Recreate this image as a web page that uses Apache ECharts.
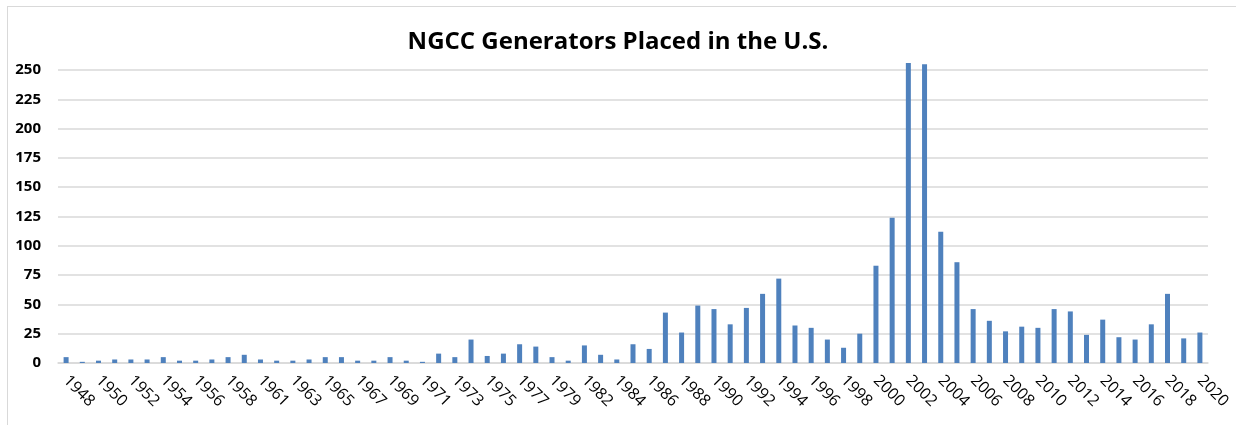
<!DOCTYPE html>
<html>
<head>
<meta charset="utf-8">
<title>NGCC Generators Placed in the U.S.</title>
<script src="https://cdn.jsdelivr.net/npm/echarts@6/dist/echarts.min.js"></script>
<style>
	html, body {
		margin: 0;
		padding: 0;
		background: #fff;
	}
	.chart-frame {
		position: absolute;
		left: 7px;
		top: 6px;
		width: 1300px;
		height: 500px;
		border: 1px solid #d9d9d9;
	}
	.chart-canvas {
		position: absolute;
		left: 0;
		top: 0;
		width: 1236px;
		height: 425px;
	}
</style>
</head>
<body>
<div class="chart-frame"></div>
<div class="chart-canvas" id="chart"></div>
<script>
	var years = [
		'1948', '1949', '1950', '1951', '1952', '1953', '1954', '1955', '1956', '1957',
		'1958', '1960', '1961', '1962', '1963', '1964', '1965', '1966', '1967', '1968',
		'1969', '1970', '1971', '1972', '1973', '1974', '1975', '1976', '1977', '1978',
		'1979', '1981', '1982', '1983', '1984', '1985', '1986', '1987', '1988', '1989',
		'1990', '1991', '1992', '1993', '1994', '1995', '1996', '1997', '1998', '1999',
		'2000', '2001', '2002', '2003', '2004', '2005', '2006', '2007', '2008', '2009',
		'2010', '2011', '2012', '2013', '2014', '2015', '2016', '2017', '2018', '2019',
		'2020'
	];

	var generators = [
		5, 1, 2, 3, 3, 3, 5, 2, 2, 3,
		5, 7, 3, 2, 2, 3, 5, 5, 2, 2,
		5, 2, 1, 8, 5, 20, 6, 8, 16, 14,
		5, 2, 15, 7, 3, 16, 12, 43, 26, 49,
		46, 33, 47, 59, 72, 32, 30, 20, 13, 25,
		83, 124, 256, 255, 112, 86, 46, 36, 27, 31,
		30, 46, 44, 24, 37, 22, 20, 33, 59, 21,
		26
	];

	var yTicks = [0, 25, 50, 75, 100, 125, 150, 175, 200, 225, 250];

	var chartTitle = 'NGCC Generators Placed in the U.S.';

	var font = '"Open Sans", "Liberation Sans", sans-serif';

	var chart = echarts.init(document.getElementById('chart'));

	chart.setOption({
		animation: false,
		title: {
			text: chartTitle,
			left: 'center',
			top: 25,
			textStyle: {
				fontFamily: font,
				fontSize: 24,
				fontWeight: 'bold',
				color: '#000'
			}
		},
		grid: {
			left: 58,
			right: 28,
			top: 70,
			bottom: 62,
			containLabel: false
		},
		xAxis: {
			type: 'category',
			data: years,
			boundaryGap: true,
			axisLine: {
				lineStyle: {
					color: '#d9d9d9',
					width: 1.5
				}
			},
			axisTick: {
				show: false
			},
			axisLabel: {
				interval: 1,
				rotate: -45,
				margin: 15,
				fontFamily: font,
				fontSize: 16,
				color: '#000'
			}
		},
		yAxis: {
			type: 'value',
			min: yTicks[0],
			max: yTicks[yTicks.length - 1],
			interval: yTicks[1] - yTicks[0],
			axisLine: {
				show: false
			},
			axisTick: {
				show: false
			},
			splitLine: {
				lineStyle: {
					color: '#d9d9d9',
					width: 1.5
				}
			},
			axisLabel: {
				margin: 17,
				fontFamily: font,
				fontSize: 15,
				fontWeight: 'bold',
				color: '#000'
			}
		},
		series: [
			{
				type: 'bar',
				data: generators,
				barWidth: 5,
				clip: false,
				itemStyle: {
					color: '#4f81bd'
				}
			}
		]
	});
</script>
</body>
</html>
